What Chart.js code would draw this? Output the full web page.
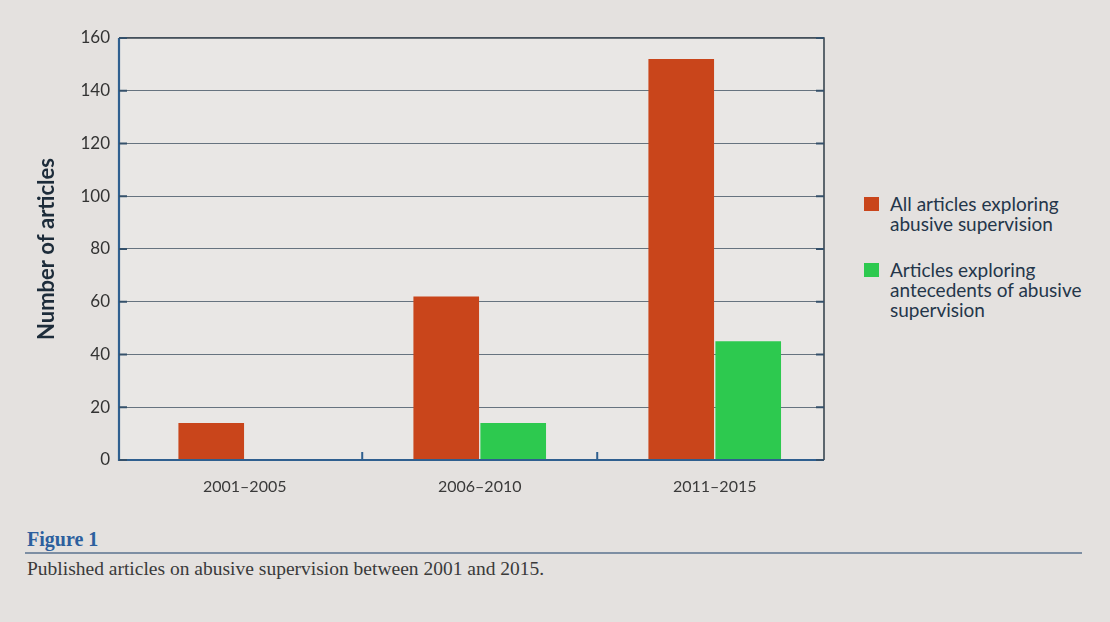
<!DOCTYPE html>
<html>
<head>
<meta charset="utf-8">
<script src="https://cdn.jsdelivr.net/npm/chart.js@4.4.1/dist/chart.umd.min.js"></script>
<style>
  html, body { margin: 0; padding: 0; }
  body { width: 1110px; height: 622px; background: #e4e1df; position: relative; overflow: hidden; font-family: Lato, "Open Sans", sans-serif; }
  #wrap { position: absolute; left: 0; top: 0; width: 850px; height: 500px; }
  .leg { position: absolute; left: 864px; color: #24364a; font-family: Lato, sans-serif; font-size: 19px; line-height: 20px; }
  .leg .sw { position: absolute; left: 0; width: 15px; height: 14px; }
  .leg .tx { position: absolute; left: 26px; white-space: nowrap; }
  #fig { position: absolute; left: 27px; top: 528px; font-family: "Liberation Serif", "DejaVu Serif", serif; font-weight: bold; font-size: 20px; color: #2c5f9e; }
  #rule { position: absolute; left: 25px; top: 552px; width: 1057px; height: 2px; background: #7d8ea3; }
  #cap { position: absolute; left: 27px; top: 558px; font-family: "Liberation Serif", "DejaVu Serif", serif; font-size: 19.5px; color: #3a3a3a; }
</style>
</head>
<body>
<div id="wrap"><canvas id="c" width="850" height="500"></canvas></div>

<div class="leg" style="top:194px;">
  <div class="sw" style="top:3px;background:#c9451b;"></div>
  <div class="tx" style="top:0px;">All articles exploring<br>abusive supervision</div>
</div>
<div class="leg" style="top:260px;">
  <div class="sw" style="top:3px;background:#2dc94f;"></div>
  <div class="tx" style="top:0px;">Articles exploring<br>antecedents of abusive<br>supervision</div>
</div>

<div id="fig">Figure 1</div>
<div id="rule"></div>
<div id="cap">Published articles on abusive supervision between 2001 and 2015.</div>

<script>
const categories = ["2001–2005", "2006–2010", "2011–2015"];
const allArticles = [14, 62, 152];
const antecedentArticles = [0, 14, 45];
const seriesNames = ["All articles exploring abusive supervision", "Articles exploring antecedents of abusive supervision"];
const yTicks = [0, 20, 40, 60, 80, 100, 120, 140, 160];

const frame = {
  id: 'frame',
  beforeDatasetsUpdate(chart) {
    const x = chart.scales.x;
    if (x && typeof x._startValue === 'number') x._startValue -= 0.035;
  },
  beforeDraw(chart) {
    const {ctx, chartArea: a} = chart;
    ctx.save();
    ctx.fillStyle = '#e9e7e5';
    ctx.fillRect(a.left, a.top, a.right - a.left, a.bottom - a.top);
    ctx.restore();
  },
  afterDraw(chart) {
    const {ctx, chartArea: a, scales} = chart;
    ctx.save();
    ctx.strokeStyle = '#3a4650';
    ctx.lineWidth = 1.6;
    ctx.beginPath();
    ctx.moveTo(a.left, a.top); ctx.lineTo(a.right, a.top); ctx.lineTo(a.right, a.bottom);
    ctx.stroke();
    ctx.strokeStyle = '#2f5f8f';
    ctx.lineWidth = 2.2;
    ctx.beginPath();
    ctx.moveTo(a.left, a.top); ctx.lineTo(a.left, a.bottom); ctx.lineTo(a.right, a.bottom);
    ctx.stroke();
    ctx.strokeStyle = '#34506a';
    ctx.lineWidth = 2;
    yTicks.forEach(v => {
      const y = scales.y.getPixelForValue(v);
      ctx.beginPath(); ctx.moveTo(a.left, y); ctx.lineTo(a.left + 8, y); ctx.stroke();
      ctx.beginPath(); ctx.moveTo(a.right, y); ctx.lineTo(a.right - 8, y); ctx.stroke();
    });
    ctx.strokeStyle = '#2f5f8f';
    for (let i = 0; i < categories.length - 1; i++) {
      const x = (scales.x.getPixelForValue(i) + scales.x.getPixelForValue(i + 1)) / 2;
      ctx.beginPath(); ctx.moveTo(x, a.bottom); ctx.lineTo(x, a.bottom - 8); ctx.stroke();
    }
    ctx.restore();
  }
};

new Chart(document.getElementById('c'), {
  type: 'bar',
  data: {
    labels: categories,
    datasets: [
      { label: seriesNames[0], data: allArticles, backgroundColor: '#c9451b', barPercentage: 0.98, categoryPercentage: 0.57 },
      { label: seriesNames[1], data: antecedentArticles, backgroundColor: '#2dc94f', barPercentage: 0.98, categoryPercentage: 0.57 }
    ]
  },
  options: {
    responsive: false,
    animation: false,
    layout: { padding: { top: 38, right: 26, left: 0, bottom: 0 } },
    plugins: { legend: { display: false }, tooltip: { enabled: false } },
    scales: {
      x: {
        offset: true,
        grid: { display: false },
        border: { display: false },
        ticks: { color: '#3a3a3a', font: { family: "Lato, sans-serif", size: 16 }, padding: 9, maxRotation: 0 },
        afterFit(s) { s.height = 40; }
      },
      y: {
        min: 0, max: 160,
        afterBuildTicks(s) { s.ticks = yTicks.map(v => ({ value: v })); },
        grid: { color: '#66737f', lineWidth: 1.1, drawTicks: false },
        border: { display: false },
        ticks: { color: '#333', font: { family: "Lato, sans-serif", size: 17 }, padding: 9 },
        title: { display: true, text: 'Number of articles', color: '#1d2c3a', font: { family: "Lato, sans-serif", size: 22, weight: 'bold' }, padding: { top: 34, bottom: 0 } },
        afterFit(s) { s.width = 119; }
      }
    }
  },
  plugins: [frame]
});
</script>
</body>
</html>
